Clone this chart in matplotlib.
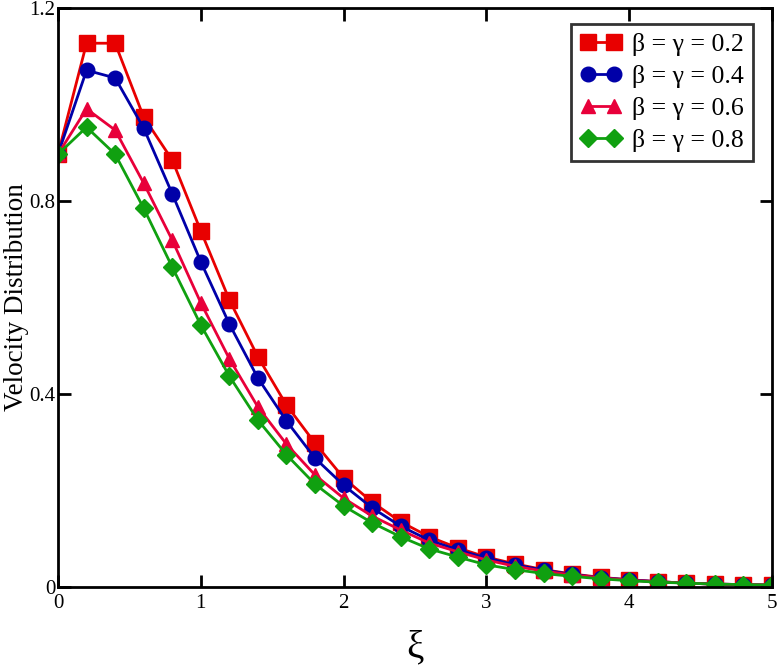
import numpy as np
import matplotlib.pyplot as plt

plt.rcParams['font.family'] = ['Liberation Serif', 'DejaVu Serif']

# xi values at each marker
xi = [0.0, 0.2, 0.4, 0.6, 0.8, 1.0, 1.2, 1.4, 1.6, 1.8, 2.0, 2.2, 2.4,
      2.6, 2.8, 3.0, 3.2, 3.4, 3.6, 3.8, 4.0, 4.2, 4.4, 4.6, 4.8, 5.0]

vel_02 = [0.897, 1.127, 1.127, 0.974, 0.885, 0.738, 0.595, 0.477, 0.377, 0.298,
          0.226, 0.176, 0.135, 0.104, 0.081, 0.062, 0.048, 0.036, 0.027, 0.020,
          0.015, 0.011, 0.008, 0.006, 0.005, 0.004]
vel_04 = [0.897, 1.071, 1.055, 0.951, 0.815, 0.674, 0.545, 0.433, 0.344, 0.267,
          0.211, 0.164, 0.126, 0.097, 0.077, 0.060, 0.046, 0.035, 0.026, 0.019,
          0.015, 0.011, 0.008, 0.006, 0.005, 0.004]
vel_06 = [0.897, 0.991, 0.947, 0.837, 0.719, 0.589, 0.473, 0.373, 0.296, 0.232,
          0.184, 0.147, 0.118, 0.091, 0.073, 0.056, 0.043, 0.033, 0.025, 0.019,
          0.014, 0.011, 0.008, 0.006, 0.005, 0.004]
vel_08 = [0.897, 0.953, 0.897, 0.785, 0.663, 0.543, 0.437, 0.346, 0.274, 0.213,
          0.168, 0.133, 0.104, 0.079, 0.062, 0.046, 0.036, 0.028, 0.022, 0.017,
          0.013, 0.010, 0.008, 0.006, 0.005, 0.004]

labels = ['β = γ = 0.2', 'β = γ = 0.4', 'β = γ = 0.6', 'β = γ = 0.8']
series = [vel_02, vel_04, vel_06, vel_08]
colors = ['#e80000', '#0000a8', '#e8003a', '#10a010']
markers = ['s', 'o', '^', 'D']
msizes = [11, 10.5, 10.5, 9]

fig = plt.figure(figsize=(7.8, 6.69), dpi=100)
ax = fig.add_axes([58/780, 82/669, 714/780, 579/669])

for y, lab, c, m, ms in zip(series, labels, colors, markers, msizes):
    ax.plot(xi, y, color=c, marker=m, markersize=ms, linewidth=2, label=lab)

ax.set_xlim(0, 5)
ax.set_ylim(0, 1.2)
ax.set_xticks([0, 1, 2, 3, 4, 5])
ax.set_yticks([0, 0.4, 0.8, 1.2])
ax.set_yticklabels(['0', '0.4', '0.8', '1.2'])
ax.tick_params(direction='in', length=9, width=2, top=True, right=True,
               labelsize=15, pad=5)
ax.tick_params(axis='y', pad=2)
for s in ax.spines.values():
    s.set_linewidth(2)

ax.set_ylabel('Velocity Distribution', fontsize=19.5, labelpad=0)
ax.set_xlabel('ξ', fontsize=28, labelpad=12)

leg = ax.legend(loc='upper right', bbox_to_anchor=(0.98, 0.982), fontsize=18.5,
                numpoints=2, frameon=True, fancybox=False, edgecolor='black',
                handlelength=1.6, handletextpad=0.4, borderpad=0.35,
                labelspacing=0.35, borderaxespad=0.2)
leg.get_frame().set_linewidth(2)

plt.savefig('out.png', dpi=100)
